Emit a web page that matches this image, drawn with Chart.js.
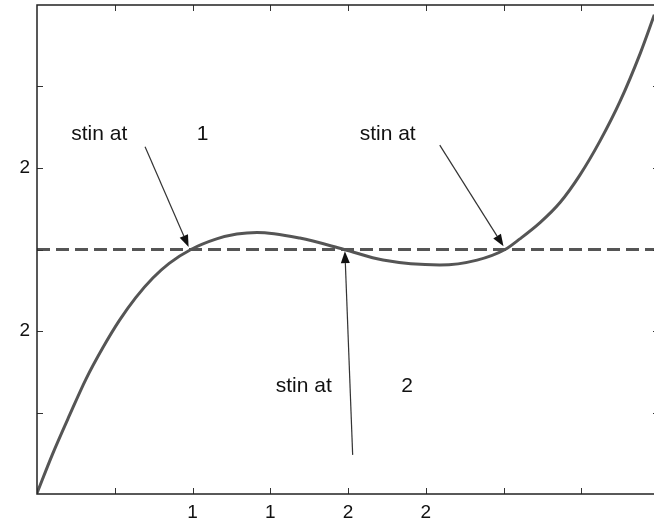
<!DOCTYPE html>
<html>
<head>
<meta charset="utf-8">
<script src="https://cdn.jsdelivr.net/npm/chart.js@4/dist/chart.umd.min.js"></script>
<style>
  html, body { margin: 0; padding: 0; background: #fff; overflow: hidden; }
  #wrap { width: 660px; height: 522px; }
</style>
</head>
<body>
<div id="wrap"><canvas id="curve-chart" width="660" height="522"></canvas></div>
<script>
// curve samples
const curveX = [0, 0.2, 0.42, 0.63, 0.85, 1.06, 1.27, 1.49, 1.7, 1.98, 2.31, 2.57, 2.83, 3.38, 3.95, 4.45, 5.18, 5.66, 6.02, 6.21, 6.47, 6.73, 6.98, 7.24, 7.5, 7.76, 7.94]
const curveY = [0.01, 0.49, 0.97, 1.41, 1.8, 2.13, 2.41, 2.65, 2.83, 3.0, 3.13, 3.19, 3.21, 3.14, 3.0, 2.87, 2.81, 2.87, 3.0, 3.13, 3.33, 3.58, 3.91, 4.33, 4.82, 5.41, 5.88]

// horizontal reference level
const levelX = [0, 8]
const levelY = [3, 3]

// tick labels, one per unit step (empty = no label)
const xTickLabels = ['', '', '1', '1', '2', '2', '', '', '']
const yTickLabels = ['', '', '2', '', '2', '', '']

// callouts: text, where it sits, and the arrow from tail to head
const noteText = ['stin at', 'stin at', 'stin at']
const noteSub = ['1', '', '2']
const noteX = [0.44, 4.15, 3.07]
const noteSubX = [2.13, 0, 4.76]
const noteY = [4.42, 4.42, 1.32]
const arrowFromX = [1.39, 5.18, 4.06]
const arrowFromY = [4.26, 4.28, 0.48]
const arrowToX = [1.95, 6.0, 3.96]
const arrowToY = [3.03, 3.04, 2.98]

const ink = '#555'

const framePlugin = {
    id: 'frame',
    afterDraw(chart) {
        const { ctx, chartArea: a, scales: { x, y } } = chart
        ctx.save()
        // inward ticks on all four sides
        ctx.strokeStyle = '#333'
        ctx.lineWidth = 1
        ctx.beginPath()
        for (let v = 1; v < 8; v++) {
            const px = Math.round(x.getPixelForValue(v)) + 0.5
            ctx.moveTo(px, a.bottom); ctx.lineTo(px, a.bottom - 6)
            ctx.moveTo(px, a.top); ctx.lineTo(px, a.top + 6)
        }
        for (let v = 1; v < 6; v++) {
            const py = Math.round(y.getPixelForValue(v)) + 0.5
            ctx.moveTo(a.left, py); ctx.lineTo(a.left + 6, py)
            ctx.moveTo(a.right, py); ctx.lineTo(a.right - 6, py)
        }
        ctx.stroke()
        // box
        ctx.strokeStyle = '#222'
        ctx.lineWidth = 1.5
        ctx.strokeRect(a.left, a.top, a.right - a.left, a.bottom - a.top)

        // callout arrows
        ctx.strokeStyle = '#333'
        ctx.fillStyle = '#111'
        ctx.lineWidth = 1.2
        for (let i = 0; i < arrowFromX.length; i++) {
            const x0 = x.getPixelForValue(arrowFromX[i]), y0 = y.getPixelForValue(arrowFromY[i])
            const x1 = x.getPixelForValue(arrowToX[i]), y1 = y.getPixelForValue(arrowToY[i])
            const ang = Math.atan2(y1 - y0, x1 - x0)
            const len = 12, half = 4.5
            ctx.beginPath()
            ctx.moveTo(x0, y0)
            ctx.lineTo(x1 - Math.cos(ang) * len, y1 - Math.sin(ang) * len)
            ctx.stroke()
            ctx.beginPath()
            ctx.moveTo(x1, y1)
            ctx.lineTo(x1 - Math.cos(ang) * len - Math.sin(ang) * half, y1 - Math.sin(ang) * len + Math.cos(ang) * half)
            ctx.lineTo(x1 - Math.cos(ang) * len + Math.sin(ang) * half, y1 - Math.sin(ang) * len - Math.cos(ang) * half)
            ctx.closePath()
            ctx.fill()
        }

        // callout text
        ctx.fillStyle = '#111'
        ctx.font = '21px "Liberation Sans", Arial, sans-serif'
        ctx.textBaseline = 'middle'
        for (let i = 0; i < noteText.length; i++) {
            const py = y.getPixelForValue(noteY[i])
            ctx.textAlign = 'left'
            ctx.fillText(noteText[i], x.getPixelForValue(noteX[i]), py)
            if (noteSub[i]) {
                ctx.textAlign = 'center'
                ctx.fillText(noteSub[i], x.getPixelForValue(noteSubX[i]), py)
            }
        }
        ctx.restore()
    }
}

const tickFont = { family: '"Liberation Sans", Arial, sans-serif', size: 19 }

const config = {
    type: 'scatter',
    data: {
        datasets: [{
            data: curveX.map((v, i) => ({ x: v, y: curveY[i] })),
            showLine: true,
            borderColor: ink,
            borderWidth: 3,
            pointRadius: 0,
            cubicInterpolationMode: 'monotone'
        }, {
            data: levelX.map((v, i) => ({ x: v, y: levelY[i] })),
            showLine: true,
            borderColor: ink,
            borderWidth: 3,
            borderDash: [13, 6],
            pointRadius: 0
        }]
    },
    options: {
        responsive: false,
        animation: false,
        layout: {
            padding: { top: 5, right: 1, left: 0, bottom: 0 }
        },
        plugins: {
            legend: { display: false },
            tooltip: { enabled: false }
        },
        scales: {
            x: {
                type: 'linear',
                min: 0,
                max: 8,
                grid: { display: false, drawTicks: false },
                border: { display: false },
                afterFit: s => { s.height = 28; s.paddingLeft = 0; s.paddingRight = 0 },
                ticks: {
                    stepSize: 1,
                    autoSkip: false,
                    maxRotation: 0,
                    padding: 7,
                    color: '#111',
                    font: tickFont,
                    callback: v => xTickLabels[v] || null
                }
            },
            y: {
                min: 0,
                max: 6,
                grid: { display: false, drawTicks: false },
                border: { display: false },
                afterFit: s => { s.width = 37; s.paddingTop = 0; s.paddingBottom = 0 },
                ticks: {
                    stepSize: 1,
                    autoSkip: false,
                    padding: 7,
                    color: '#111',
                    font: tickFont,
                    callback: v => yTickLabels[v] || null
                }
            }
        }
    },
    plugins: [framePlugin]
}

new Chart(document.getElementById('curve-chart').getContext('2d'), config)
</script>
</body>
</html>
